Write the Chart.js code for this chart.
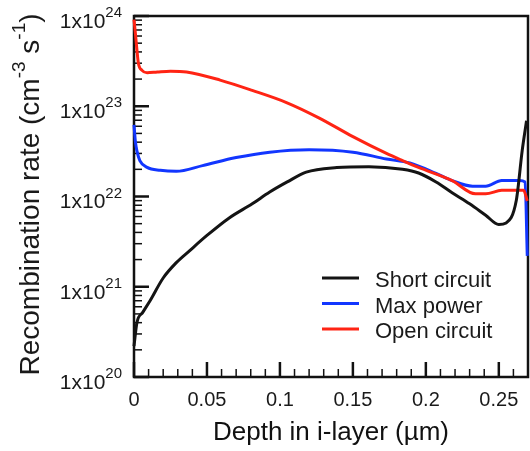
<!DOCTYPE html>
<html>
<head>
<meta charset="utf-8">
<script src="https://cdn.jsdelivr.net/npm/chart.js@4/dist/chart.umd.min.js"></script>
<style>
  html, body { margin: 0; padding: 0; background: #fff; }
</style>
</head>
<body>
<canvas id="grafico" width="530" height="451"></canvas>
<script>
// Fonte parecida com Helvetica
const FONTE = "'Liberation Sans', Arial, Helvetica, sans-serif";

// Séries (profundidade em µm, taxa em cm-3 s-1)
const rotulos = ['Short circuit', 'Max power', 'Open circuit'];
const cores = ['#141414', '#1236ff', '#ff2414'];

const profCurto = [0, 0.002, 0.006, 0.011, 0.02, 0.029, 0.038, 0.05, 0.065, 0.081, 0.093, 0.105, 0.118, 0.139, 0.161, 0.184, 0.195, 0.207, 0.218, 0.23, 0.241, 0.25, 0.255, 0.262, 0.266, 0.269];
const taxaCurto = [2.2e20, 4.0e20, 5.2e20, 7.0e20, 1.25e21, 1.85e21, 2.5e21, 3.7e21, 5.75e21, 8.3e21, 1.12e22, 1.45e22, 1.86e22, 2.09e22, 2.14e22, 2.0e22, 1.82e22, 1.45e22, 1.1e22, 8.3e21, 6.2e21, 4.9e21, 5.1e21, 9.1e21, 3.2e22, 6.9e22];

const profMax = [0, 0.001, 0.002, 0.004, 0.009, 0.018, 0.029, 0.047, 0.07, 0.093, 0.12, 0.15, 0.173, 0.189, 0.207, 0.218, 0.232, 0.241, 0.252, 0.264, 0.268, 0.2695];
const taxaMax = [6.2e22, 4.0e22, 3.2e22, 2.5e22, 2.1e22, 1.95e22, 1.9e22, 2.2e22, 2.7e22, 3.1e22, 3.3e22, 3.1e22, 2.6e22, 2.35e22, 1.8e22, 1.5e22, 1.3e22, 1.3e22, 1.5e22, 1.5e22, 1.45e22, 2.2e21];

const profAberto = [0, 0.001, 0.002, 0.003, 0.0055, 0.009, 0.016, 0.025, 0.036, 0.059, 0.081, 0.1045, 0.127, 0.15, 0.173, 0.184, 0.195, 0.218, 0.234, 0.241, 0.252, 0.267, 0.2695];
const taxaAberto = [9.1e23, 6.3e23, 4.2e23, 3.0e23, 2.5e23, 2.35e23, 2.4e23, 2.45e23, 2.4e23, 1.95e23, 1.5e23, 1.1e23, 7.4e22, 4.6e22, 3.0e22, 2.5e22, 2.1e22, 1.5e22, 1.07e22, 1.07e22, 1.17e22, 1.17e22, 8.9e21];

// Marcas dos eixos
const xTicks = [0, 0.05, 0.1, 0.15, 0.2, 0.25];
const xMinorStep = 0.01;
const yExpoentes = [20, 21, 22, 23, 24];

function pontos(xs, ys) {
  return xs.map((x, i) => ({ x: x, y: ys[i] }));
}

function linha(ctx, x1, y1, x2, y2) {
  ctx.beginPath();
  ctx.moveTo(x1, y1);
  ctx.lineTo(x2, y2);
  ctx.stroke();
}

// Moldura e marcas internas (ticks para dentro)
const eixosPlugin = {
  id: 'eixos',
  beforeDatasetsDraw(chart) {
    const ctx = chart.ctx;
    const a = chart.chartArea;
    const sx = chart.scales.x, sy = chart.scales.y;
    ctx.save();
    ctx.strokeStyle = '#111';

    // menores em y
    ctx.lineWidth = 1.5;
    yExpoentes.slice(0, -1).forEach(e => {
      for (let m = 2; m <= 9; m++) {
        const py = sy.getPixelForValue(m * Math.pow(10, e));
        linha(ctx, a.left, py, a.left + 8, py);
      }
    });
    // menores em x
    for (let v = xMinorStep; v < sx.max; v += xMinorStep) {
      const px = sx.getPixelForValue(v);
      linha(ctx, px, a.bottom, px, a.bottom - 8);
    }
    // maiores
    ctx.lineWidth = 2.5;
    yExpoentes.forEach(e => {
      const py = sy.getPixelForValue(Math.pow(10, e));
      linha(ctx, a.left, py, a.left + 15, py);
    });
    xTicks.forEach(v => {
      const px = sx.getPixelForValue(v);
      linha(ctx, px, a.bottom, px, a.bottom - 15);
    });
    // moldura
    ctx.lineWidth = 2.5;
    ctx.strokeRect(a.left, a.top, a.right - a.left, a.bottom - a.top);
    ctx.restore();
  },
  afterDraw(chart) {
    const ctx = chart.ctx;
    const a = chart.chartArea;
    const sy = chart.scales.y;
    ctx.save();
    ctx.fillStyle = '#1a1a1a';

    // rótulos do eixo y: 1x10^n
    yExpoentes.forEach(e => {
      const py = sy.getPixelForValue(Math.pow(10, e));
      ctx.textAlign = 'right';
      ctx.textBaseline = 'middle';
      ctx.font = '15px ' + FONTE;
      const sup = String(e);
      const wSup = ctx.measureText(sup).width;
      ctx.fillText(sup, a.left - 12, py - 3);
      ctx.font = '21px ' + FONTE;
      ctx.fillText('1x10', a.left - 12 - wSup, py + 6);
    });

    // título do eixo y com sobrescritos
    const partes = [
      ['Recombination rate (cm', false],
      ['-3', true],
      [' s', false],
      ['-1', true],
      [')', false]
    ];
    const fMain = '28px ' + FONTE, fSup = '19px ' + FONTE;
    let total = 0;
    partes.forEach(p => { ctx.font = p[1] ? fSup : fMain; total += ctx.measureText(p[0]).width; });
    ctx.translate(31, (a.top + a.bottom) / 2 - 2);
    ctx.rotate(-Math.PI / 2);
    ctx.textAlign = 'left';
    ctx.textBaseline = 'middle';
    let pos = -total / 2;
    partes.forEach(p => {
      ctx.font = p[1] ? fSup : fMain;
      ctx.fillText(p[0], pos, p[1] ? -11 : 0);
      pos += ctx.measureText(p[0]).width;
    });
    ctx.restore();

    // legenda dentro da área
    ctx.save();
    ctx.font = '22px ' + FONTE;
    ctx.textAlign = 'left';
    ctx.textBaseline = 'middle';
    rotulos.forEach((r, i) => {
      const ly = a.top + 262 + i * 25.5;
      ctx.strokeStyle = cores[i];
      ctx.lineWidth = 3;
      linha(ctx, a.left + 188, ly, a.left + 225, ly);
      ctx.fillStyle = '#1a1a1a';
      ctx.fillText(r, a.left + 241, ly + 3);
    });
    ctx.restore();
  }
};

const ctx = document.getElementById('grafico').getContext('2d');

new Chart(ctx, {
  type: 'line',
  data: {
    datasets: [
      { label: rotulos[0], data: pontos(profCurto, taxaCurto), borderColor: cores[0], order: 0 },
      { label: rotulos[1], data: pontos(profMax, taxaMax), borderColor: cores[1], order: 2 },
      { label: rotulos[2], data: pontos(profAberto, taxaAberto), borderColor: cores[2], order: 1 }
    ]
  },
  options: {
    responsive: false,
    animation: false,
    layout: { padding: { top: 16, right: 2, bottom: 0, left: 0 } },
    datasets: {
      line: {
        borderWidth: 3,
        pointRadius: 0,
        fill: false,
        cubicInterpolationMode: 'monotone',
        clip: 4
      }
    },
    scales: {
      x: {
        type: 'linear',
        min: 0,
        max: 0.27,
        afterBuildTicks(s) { s.ticks = xTicks.map(v => ({ value: v })); },
        afterFit(s) { s.height = 74; },
        grid: { display: false, drawTicks: false },
        border: { display: false },
        ticks: {
          autoSkip: false,
          maxRotation: 0,
          padding: 11,
          color: '#1a1a1a',
          font: { family: FONTE, size: 20 },
          callback: v => String(v)
        },
        title: {
          display: true,
          text: 'Depth in i-layer (µm)',
          color: '#111',
          font: { family: FONTE, size: 26 },
          padding: { top: 0, bottom: 3 }
        }
      },
      y: {
        type: 'logarithmic',
        min: 1e20,
        max: 1e24,
        afterFit(s) { s.width = 134; },
        grid: { display: false },
        border: { display: false },
        ticks: { display: false }
      }
    },
    plugins: {
      legend: { display: false },
      tooltip: { enabled: false }
    }
  },
  plugins: [eixosPlugin]
});
</script>
</body>
</html>
